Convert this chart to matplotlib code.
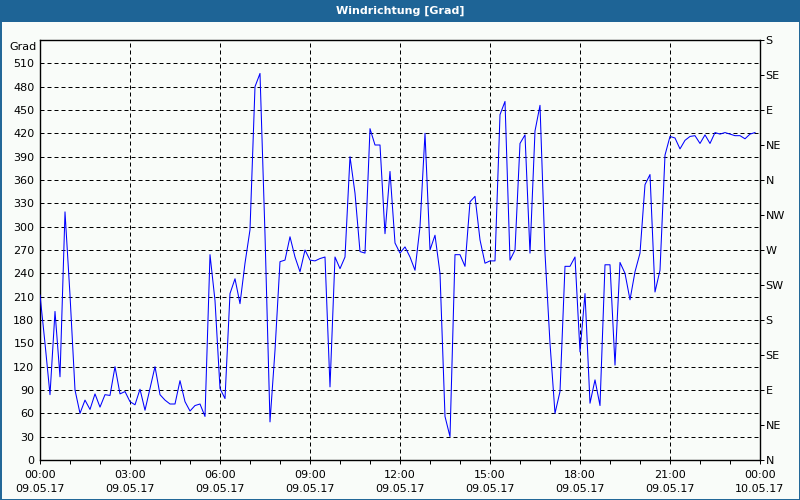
import numpy as np
import matplotlib
matplotlib.use("Agg")
import matplotlib.pyplot as plt
from matplotlib.patches import Rectangle

# wind direction [deg], one value every 10 minutes, 09.05.17 00:00 - 23:50
wind_dir = [
    212, 150, 84, 191, 107, 319, 212, 90, 60, 77, 65, 85,
    68, 84, 83, 120, 85, 88, 75, 71, 91, 64, 92, 120,
    84, 77, 72, 72, 102, 75, 63, 70, 72, 56, 264, 205,
    92, 79, 214, 233, 201, 253, 296, 480, 497, 290, 49, 141,
    255, 257, 287, 261, 242, 270, 257, 256, 259, 261, 94, 261,
    246, 261, 390, 343, 268, 266, 426, 405, 405, 291, 371, 279,
    266, 274, 261, 244, 300, 420, 270, 289, 240, 56, 30, 264,
    264, 249, 332, 339, 283, 253, 256, 256, 444, 461, 257, 270,
    407, 418, 266, 423, 456, 266, 150, 60, 88, 249, 249, 261,
    139, 214, 73, 103, 70, 251, 251, 122, 254, 240, 206, 242,
    266, 354, 367, 216, 244, 392, 416, 414, 400, 411, 416, 417,
    407, 418, 407, 421, 419, 421, 419, 417, 417, 413, 419, 421,
]
hours = np.arange(len(wind_dir)) / 6.0

xtick_hours = [0, 3, 6, 9, 12, 15, 18, 21, 24]
xtick_labels = ["00:00\n09.05.17", "03:00\n09.05.17", "06:00\n09.05.17",
                "09:00\n09.05.17", "12:00\n09.05.17", "15:00\n09.05.17",
                "18:00\n09.05.17", "21:00\n09.05.17", "00:00\n10.05.17"]
ytick_left = list(range(0, 511, 30))
ytick_right = list(range(0, 541, 45))
compass = ["N", "NE", "E", "SE", "S", "SW", "W", "NW", "N", "NE", "E", "SE", "S"]

bg = "#F9FCF9"
bar_blue = "#1E6496"
plt.rcParams["font.family"] = "DejaVu Sans"
plt.rcParams["font.size"] = 8

fig = plt.figure(figsize=(8, 5), dpi=100, facecolor=bg)
ax = fig.add_axes([40 / 800, 40 / 500, 720 / 800, 420 / 500], facecolor=bg)

# title bar + frame
fig.patches.append(Rectangle((0, 1 - 22 / 500), 1, 22 / 500, transform=fig.transFigure,
                             facecolor=bar_blue, edgecolor="none", zorder=0))
fig.patches.append(Rectangle((0.5 / 800, 0.5 / 500), 799 / 800, 499 / 500, transform=fig.transFigure,
                             facecolor="none", edgecolor=bar_blue, linewidth=1.4, zorder=0))
fig.text(0.5, 1 - 11 / 500, "Windrichtung [Grad]", color="white", fontweight="bold",
         ha="center", va="center", fontsize=8)

ax.plot(hours, wind_dir, color="#0000FF", linewidth=0.75, zorder=3)

ax.set_xlim(0, 24)
ax.set_ylim(0, 540)
ax.set_xticks(xtick_hours)
ax.set_xticklabels(xtick_labels, linespacing=1.55)
ax.set_xticks(range(0, 25), minor=True)
ax.set_yticks(ytick_left)
ax.tick_params(axis="x", which="both", direction="out", length=3, width=0.72, pad=4)
ax.tick_params(axis="y", length=0, pad=4)

ax.grid(True, which="major", color="black", linestyle=(0, (4, 3)), linewidth=0.72)
for s in ax.spines.values():
    s.set_linewidth(1.0)
    s.set_color("black")

ax.text(-0.1, 538, "Grad", ha="right", va="top", fontsize=8)

ax2 = ax.twinx()
ax2.set_ylim(0, 540)
ax2.set_yticks(ytick_right)
ax2.set_yticklabels(compass)
ax2.tick_params(axis="y", direction="out", length=3, width=0.72, pad=1)
for s in ax2.spines.values():
    s.set_visible(False)

fig.savefig("out.png", dpi=100, facecolor=bg)
